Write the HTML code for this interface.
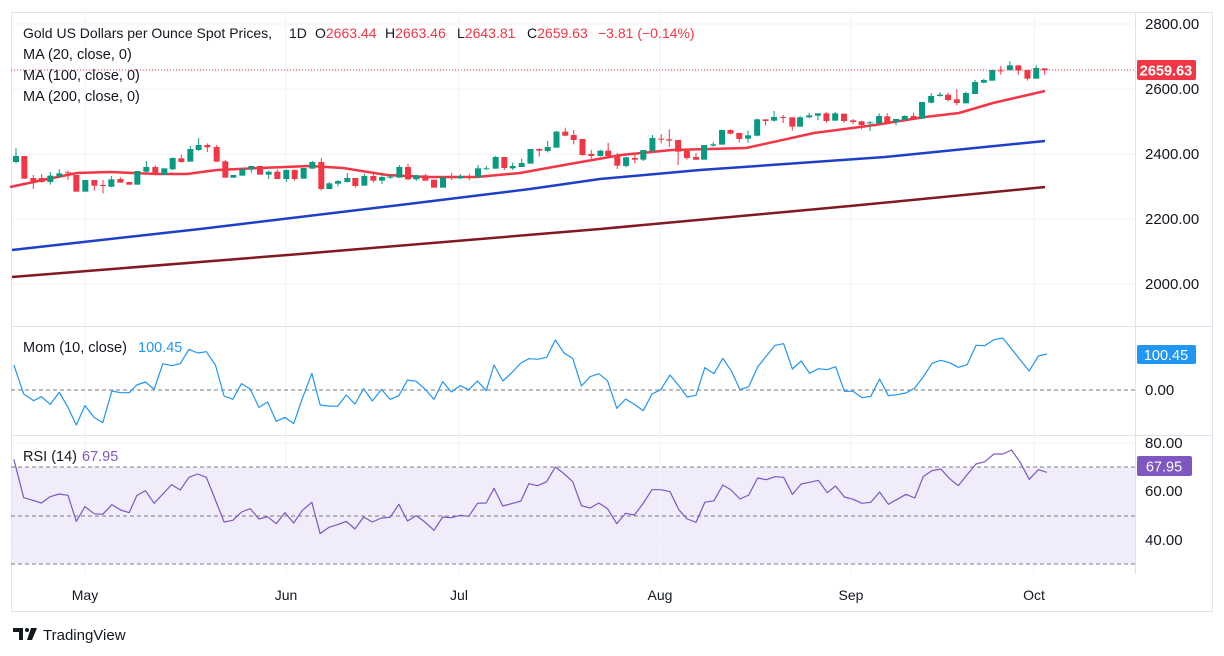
<!DOCTYPE html>
<html><head><meta charset="utf-8"><style>
html,body{margin:0;padding:0;background:#fff;width:1224px;height:656px;overflow:hidden}
svg{display:block}
text{font-family:"Liberation Sans",sans-serif}
</style></head><body>
<svg id="s" width="1224" height="656" xmlns="http://www.w3.org/2000/svg"></svg>
<script>
const S=document.getElementById('s');let h='';
function L(x1,y1,x2,y2,c,w,d){h+=`<line x1="${x1}" y1="${y1}" x2="${x2}" y2="${y2}" stroke="${c}" stroke-width="${w||1}" ${d?`stroke-dasharray="${d}"`:''}/>`;}
function T(x,y,t,c,s,a,wt){h+=`<text x="${x}" y="${y}" fill="${c}" font-size="${s||13}" ${a?`text-anchor="${a}"`:''} ${wt?`font-weight="${wt}"`:''}>${t}</text>`;}
function P(pts,c,w){h+=`<polyline points="${pts.map(p=>p.join(',')).join(' ')}" fill="none" stroke="${c}" stroke-width="${w}" stroke-linejoin="round"/>`;}
const R=1135;
h+=`<rect x="11" y="467" width="${R-11}" height="97" fill="#f0ecf9"/>`;
[24,89,154,219,284].forEach(y=>L(11,y,R,y,'#f0f3fa'));
[443,491,540].forEach(y=>L(11,y,R,y,'#f0f3fa'));
[85,286,459,660,851,1034].forEach(x=>L(x,12,x,574,'#f0f3fa'));
h+=`<rect x="11.5" y="12.5" width="1201" height="599" fill="none" stroke="#e0e3eb"/>`;
L(11,326.5,1213,326.5,'#e0e3eb');L(11,435.5,1213,435.5,'#e0e3eb');
L(R+.5,12,R+.5,574,'#e0e3eb');
L(11,390,R,390,'#787b86',1,'4 3');
[467,516,564].forEach(y=>L(11,y,R,y,'#787b86',1,'4 3'));
P([[12,277],[300,254],[600,229],[850,206],[1045,187]],'#801922',2.5);
P([[12,250],[200,229],[400,205],[530,189],[600,179],[700,170],[885,157],[1045,141]],'#1e40c8',2.5);
P([[10,187],[43,180],[77,173],[110,172],[157,174],[187,174],[217,170],[260,168],[310,166],[343,168],[387,175],[427,177],[477,177],[520,173],[564,165],[621,155],[672,150],[746,148],[814,133],[875,125],[925,117],[959,113],[993,103],[1045,91]],'#f23645',2.5);
const A=[[18,'G',108,126,85,130],[43,'R',108,176,108,176],[70,'R',174,183,165,207],[95,'R',174,186,162,188],[121,'G',167,186,156,194],[148,'G',160,170,148,173],[174,'R',157,160,152,180],[199,'R',165,215,165,215],[226,'G',180,215,180,215],[253,'R',180,197,180,212],[279,'R',195,197,180,220],[304,'G',178,200,168,202],[331,'R',177,188,172,188],[358,'R',186,194,186,194],[382,'G',153,194,153,194],[409,'G',141,155,123,157],[436,'R',141,164,136,166],[463,'G',145,165,145,165],[488,'G',114,148,112,150],[514,'R',115,126,104,128],[541,'G',87,125,78,125],[566,'G',75,90,54,93],[592,'R',75,82,70,96],[620,'R',81,125,75,125],[646,'R',124,173,120,173],[670,'G',165,173,165,173],[697,'G',148,167,145,167],[724,'G',138,148,138,158],[750,'R',138,164,138,164],[776,'G',155,164,152,177],[802,'R',155,177,148,177],[829,'G',150,177,148,186],[854,'R',150,177,148,182],[881,'G',144,176,144,176],[907,'G',126,146,123,146],[934,'R',126,207,114,212],[958,'G',190,207,186,207],[984,'G',183,191,180,199],[1012,'G',174,186,159,188],[1036,'R',174,198,174,203],[1063,'G',168,197,161,197],[1090,'R',168,182,162,188],[1116,'G',171,182,165,192],[1141,'G',170,173,164,176],[1168,'G',141,173,135,173],[1194,'R',141,178,131,180],[1219,'G',166,178,165,182],[1246,'R',166,182,162,182],[1272,'R',179,203,179,203],[1299,'G',172,203,172,203],[1325,'R',171,172,159,180],[1351,'G',168,175,162,178],[1378,'R',171,172,162,180],[1404,'G',145,172,135,172],[1429,'G',145,147,138,149],[1457,'G',111,146,108,146],[1483,'R',111,144,111,150],[1508,'G',138,145,128,150]];
const B=[[5,'G',309,321,296,321],[31,'G',267,311,267,311],[57,'R',267,272,265,290],[82,'G',261,273,243,277],[108,'G',215,263,213,263],[134,'R',215,227,203,229],[159,'R',225,240,210,253],[185,'R',237,285,237,287],[211,'R',282,288,270,296],[238,'G',272,288,270,290],[261,'R',272,288,249,288],[288,'R',286,317,279,327],[314,'G',292,318,290,322],[340,'R',294,299,282,310],[365,'G',270,299,270,303],[392,'G',234,273,225,275],[418,'R',236,238,222,250],[442,'R',238,242,208,260],[468,'R',240,275,240,315],[494,'R',273,294,273,299],[521,'R',291,299,280,300],[545,'G',255,299,255,299],[572,'G',253,257,246,260],[598,'G',210,254,210,254],[623,'R',210,221,208,223],[649,'R',219,237,219,247],[675,'G',226,236,212,249],[702,'G',178,227,175,229],[727,'R',178,183,178,196],[752,'G',171,182,153,185],[779,'R',171,172,165,189],[806,'R',172,200,172,212],[829,'G',172,200,168,200],[856,'G',166,172,158,175],[882,'G',160,167,160,180],[907,'R',160,183,157,188],[933,'G',160,182,156,182],[959,'R',161,183,161,189],[986,'R',181,186,177,193],[1011,'R',184,195,182,208],[1036,'G',187,190,183,213],[1063,'G',168,190,160,193],[1087,'R',169,190,160,190],[1113,'G',177,186,177,196],[1139,'G',168,180,166,180],[1165,'R',168,179,158,179],[1190,'G',126,176,126,176],[1217,'G',108,128,99,130],[1243,'G',104,108,96,110],[1267,'R',104,120,98,124],[1293,'R',118,129,88,136],[1320,'G',99,130,95,130],[1347,'G',66,102,60,102],[1373,'G',60,68,56,70],[1398,'G',30,62,30,62],[1423,'R',31,33,18,44],[1450,'G',16,31,4,31],[1475,'R',16,32,16,44],[1502,'R',30,56,30,62],[1528,'G',24,56,16,56],[1553,'R',25,31,25,44]];
function C(x,c,bt,bb,wt,wb){const col=c=='G'?'#089981':'#f23645';L(x,wt,x,wb,col,1);h+=`<rect x="${x-3}" y="${bt}" width="6" height="${Math.max(bb-bt,1)}" fill="${col}"/>`;}
A.forEach(a=>C(10+a[0]/3,a[1],120+a[2]/3,120+a[3]/3,120+a[4]/3,120+a[5]/3));
B.forEach(a=>C(520+a[0]/2.96,a[1],60+a[2]/3,60+a[3]/3,60+a[4]/3,60+a[5]/3));
L(11,70,R,70,'#f23645',1,'1 2');
const M1=[[35,135],[60,222],[85,242],[105,230],[127,253],[150,217],[172,262],[193,315],[215,257],[238,292],[260,308],[283,213],[305,218],[327,218],[346,195],[368,186],[390,208],[412,131],[434,137],[456,131],[478,88],[500,99],[522,95],[545,135],[567,228],[589,238],[611,191],[633,207],[655,262],[677,246],[699,304],[721,292],[743,311],[765,235],[789,160],[810,255],[832,258],[854,259],[876,225],[898,252],[920,206],[942,243],[965,208],[987,238],[1009,227],[1031,180],[1053,184],[1075,207],[1098,238],[1120,185],[1142,216],[1164,197],[1186,209],[1208,183],[1230,212],[1250,135],[1272,183],[1294,159],[1318,129],[1338,116],[1360,118],[1383,112],[1405,60],[1427,99],[1449,115],[1471,198],[1493,170],[1515,161],[1537,182]].map(p=>[p[0]/2.53,320+p[1]/3]);
const M2=[[42,265],[64,237],[86,253],[108,272],[130,222],[152,209],[175,165],[197,197],[218,231],[240,226],[262,143],[285,161],[307,115],[328,152],[350,209],[372,200],[394,141],[416,108],[438,76],[459,71],[481,147],[503,123],[524,160],[546,146],[568,149],[589,140],[611,214],[633,214],[655,233],[677,229],[699,177],[721,227],[743,224],[765,219],[787,204],[808,171],[830,130],[852,121],[874,128],[896,142],[918,134],[940,76],[962,77],[985,59],[1007,54],[1073,153],[1096,108],[1117,102]].map(p=>[600+p[0]/2.5,320+p[1]/3]);
P(M1.concat(M2),'#2196f3',1.2);
const R1=[[35,418],[60,533],[83,541],[105,549],[127,530],[150,522],[172,526],[193,604],[215,560],[238,581],[260,583],[283,554],[305,570],[327,578],[346,527],[368,512],[390,550],[412,522],[434,494],[456,510],[478,472],[500,462],[522,472],[545,540],[567,606],[589,601],[611,576],[633,566],[655,597],[677,590],[699,611],[721,578],[743,609],[765,571],[789,547],[810,641],[832,622],[854,614],[876,604],[898,627],[920,591],[942,606],[965,594],[987,592],[1009,553],[1031,603],[1053,587],[1075,606],[1098,631],[1120,591],[1142,593],[1164,586],[1186,589],[1208,550],[1230,549],[1250,505],[1272,558],[1294,551],[1318,543],[1338,491],[1360,497],[1383,485],[1405,441],[1427,461],[1449,485],[1471,557],[1493,564],[1515,549],[1537,566]].map(p=>[p[0]/2.53,320+p[1]/3]);
const R2=[[42,611],[64,580],[86,585],[108,550],[130,509],[152,509],[175,515],[197,569],[218,597],[240,607],[262,547],[285,542],[307,495],[328,510],[350,537],[372,525],[394,474],[416,479],[438,470],[459,472],[481,523],[503,492],[524,487],[546,481],[568,518],[589,498],[611,531],[633,538],[655,550],[677,547],[699,516],[721,553],[743,538],[765,523],[787,534],[808,470],[830,452],[852,447],[874,476],[896,497],[918,464],[940,432],[962,425],[985,402],[1007,402],[1029,390],[1051,428],[1073,478],[1096,449],[1117,457]].map(p=>[600+p[0]/2.5,320+p[1]/3]);
P(R1.concat(R2),'#7e57c2',1.2);
const ax='#131722';
[[24,'2800.00'],[89,'2600.00'],[154,'2400.00'],[219,'2200.00'],[284,'2000.00']].forEach(a=>T(1145,a[0]+5,a[1],ax,15));
T(1145,395,'0.00',ax,15);
[[443,'80.00'],[491,'60.00'],[540,'40.00']].forEach(a=>T(1145,a[0]+5,a[1],ax,15));
h+=`<rect x="1137" y="60" width="59" height="20" rx="2" fill="#f23645"/>`;T(1166,75.5,'2659.63','#fff',14.5,'middle','bold');
h+=`<rect x="1137" y="345" width="59" height="19" rx="2" fill="#2196f3"/>`;T(1166,360,'100.45','#fff',14.5,'middle');
h+=`<rect x="1137" y="456" width="55" height="20" rx="2" fill="#7e57c2"/>`;T(1164,471.5,'67.95','#fff',14.5,'middle');
[[85,'May'],[286,'Jun'],[459,'Jul'],[660,'Aug'],[851,'Sep'],[1034,'Oct']].forEach(a=>T(a[0],600,a[1],ax,14,'middle'));
h+=`<text y="38" font-size="14" fill="${ax}"><tspan x="23">Gold US Dollars per Ounce Spot Prices,</tspan><tspan x="289">1D</tspan><tspan x="315">O</tspan><tspan fill="#f23645">2663.44</tspan><tspan x="385">H</tspan><tspan fill="#f23645">2663.46</tspan><tspan x="457">L</tspan><tspan fill="#f23645">2643.81</tspan><tspan x="527">C</tspan><tspan fill="#f23645">2659.63</tspan><tspan x="598" fill="#f23645">−3.81 (−0.14%)</tspan></text>`;
T(23,59,'MA (20, close, 0)',ax,14.5);T(23,80,'MA (100, close, 0)',ax,14.5);T(23,101,'MA (200, close, 0)',ax,14.5);
h+=`<text y="352" font-size="14.5" fill="${ax}"><tspan x="23">Mom (10, close)</tspan><tspan x="138" fill="#2196f3">100.45</tspan></text>`;
h+=`<text y="461" font-size="14.5" fill="${ax}"><tspan x="23">RSI (14)</tspan><tspan x="82" fill="#7e57c2">67.95</tspan></text>`;
h+=`<path d="M13 628h10v12h-4v-8h-6z" fill="#131722"/><circle cx="27" cy="630" r="2" fill="#131722"/><path d="M31 628h6l-5 12h-5z" fill="#131722"/>`;
T(43,640,'TradingView',ax,15);
S.innerHTML=h;
</script>
</body></html>
